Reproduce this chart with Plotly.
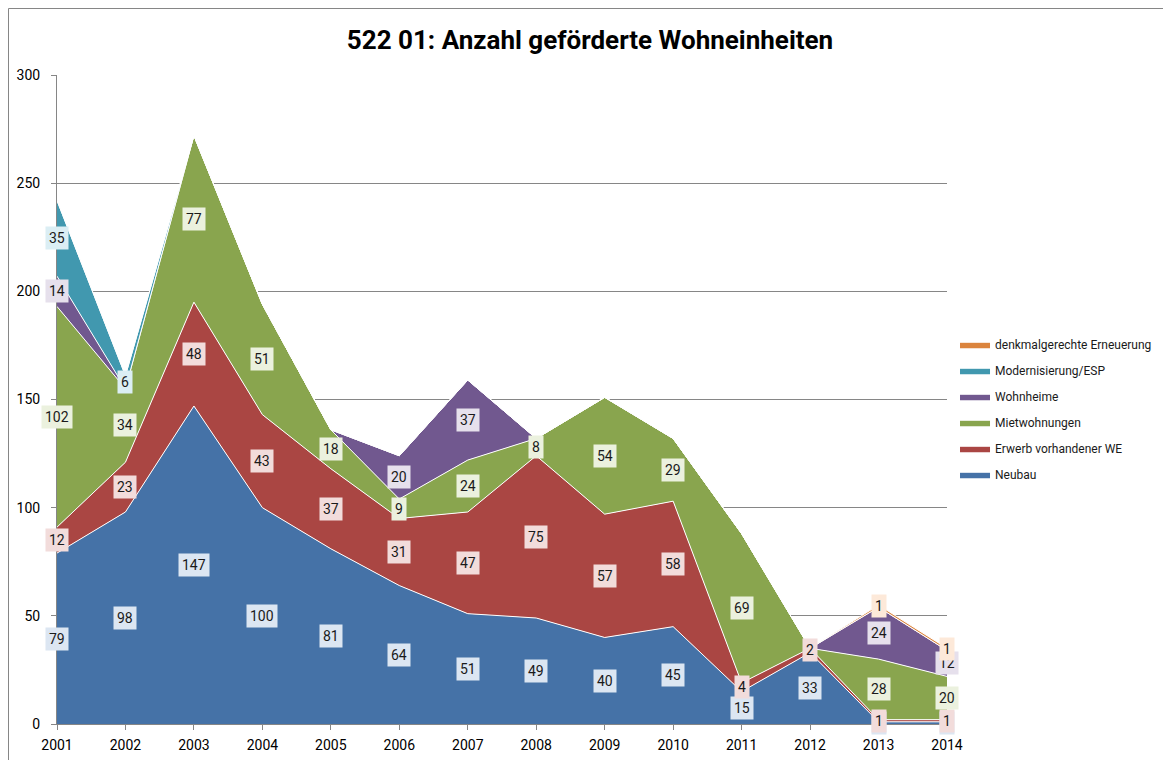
import plotly.graph_objects as go

years = [2001, 2002, 2003, 2004, 2005, 2006, 2007, 2008, 2009, 2010, 2011, 2012, 2013, 2014]
neubau = [79, 98, 147, 100, 81, 64, 51, 49, 40, 45, 15, 33, 1, 1]
erwerb = [12, 23, 48, 43, 37, 31, 47, 75, 57, 58, 4, 2, 1, 1]
miet = [102, 34, 77, 51, 18, 9, 24, 8, 54, 29, 69, 0, 28, 20]
wohnheime = [14, 0, 0, 0, 0, 20, 37, 0, 0, 0, 0, 0, 24, 12]
modern = [35, 6, 0, 0, 0, 0, 0, 0, 0, 0, 0, 0, 0, 0]
denkmal = [0, 0, 0, 0, 0, 0, 0, 0, 0, 0, 0, 0, 1, 1]

series = [
    ("Neubau", neubau, "#4572A7", "#DCE6F2"),
    ("Erwerb vorhandener WE", erwerb, "#AA4643", "#F2DCDB"),
    ("Mietwohnungen", miet, "#89A54E", "#EBF1DE"),
    ("Wohnheime", wohnheime, "#71588F", "#E6E0EC"),
    ("Modernisierung/ESP", modern, "#4198AF", "#DBEEF4"),
    ("denkmalgerechte Erneuerung", denkmal, "#DB843D", "#FDE9D9"),
]

FONT = "Roboto"
W, H = 1163, 752  # page body has an 8px margin
fig = go.Figure()
annotations = []
base = [0] * len(years)
n = len(series)
for k, (name, vals, col, light) in enumerate(series):
    fig.add_trace(go.Scatter(
        x=years, y=vals, name=name, mode="lines", stackgroup="one",
        legendgroup=name, legendrank=(n - k) * 100,
        line=dict(color="white", width=1), fillcolor=col,
        hoverinfo="x+y+name",
    ))
    for i, v in enumerate(vals):
        if v:
            annotations.append(dict(
                x=years[i], y=base[i] + v / 2, xref="x", yref="y",
                text=str(v), showarrow=False,
                font=dict(family=FONT, size=14, color="#1a1a1a"),
                bgcolor=light, borderpad=3,
            ))
    base = [b + v for b, v in zip(base, vals)]

fig.update_layout(
    width=W, height=H,
    margin=dict(l=49, r=224, t=67, b=36),
    paper_bgcolor="white", plot_bgcolor="white",
    title=dict(text="<b>522 01: Anzahl geförderte Wohneinheiten</b>",
               x=(590 - 8) / W, xanchor="center", y=1 - 32 / H, yanchor="middle",
               font=dict(family=FONT, size=26, color="black")),
    showlegend=True,
    legend=dict(traceorder="grouped", x=1.009, xanchor="left", y=0.485, yanchor="middle",
                font=dict(family=FONT, size=12, color="#1a1a1a"),
                itemwidth=30, tracegroupgap=7, bgcolor="rgba(0,0,0,0)"),
    annotations=annotations,
    font=dict(family=FONT, size=13, color="black"),
)
fig.update_xaxes(
    range=[2001, 2014], tickvals=years, ticktext=[str(y) for y in years],
    showgrid=False, showline=True, linecolor="#868686", linewidth=1,
    ticks="outside", ticklen=5, tickcolor="#868686", zeroline=False,
    tickfont=dict(family=FONT, size=14, color="black"), automargin=False,
    ticklabelstandoff=3,
)
fig.update_yaxes(
    range=[0, 300], tickvals=[0, 50, 100, 150, 200, 250, 300],
    showgrid=True, gridcolor="#868686", gridwidth=1,
    showline=True, linecolor="#868686", linewidth=1,
    ticks="outside", ticklen=5, tickcolor="#868686", zeroline=False,
    tickfont=dict(family=FONT, size=14, color="black"), automargin=False,
    ticklabelstandoff=8,
)
fig.add_shape(type="rect", xref="paper", yref="paper",
              x0=-49 / 890 + 0.5 / 890, x1=1.5,
              y0=-0.2, y1=1 + 66.5 / 649,
              line=dict(color="#868686", width=1), layer="below")
fig.write_html("out.html")
